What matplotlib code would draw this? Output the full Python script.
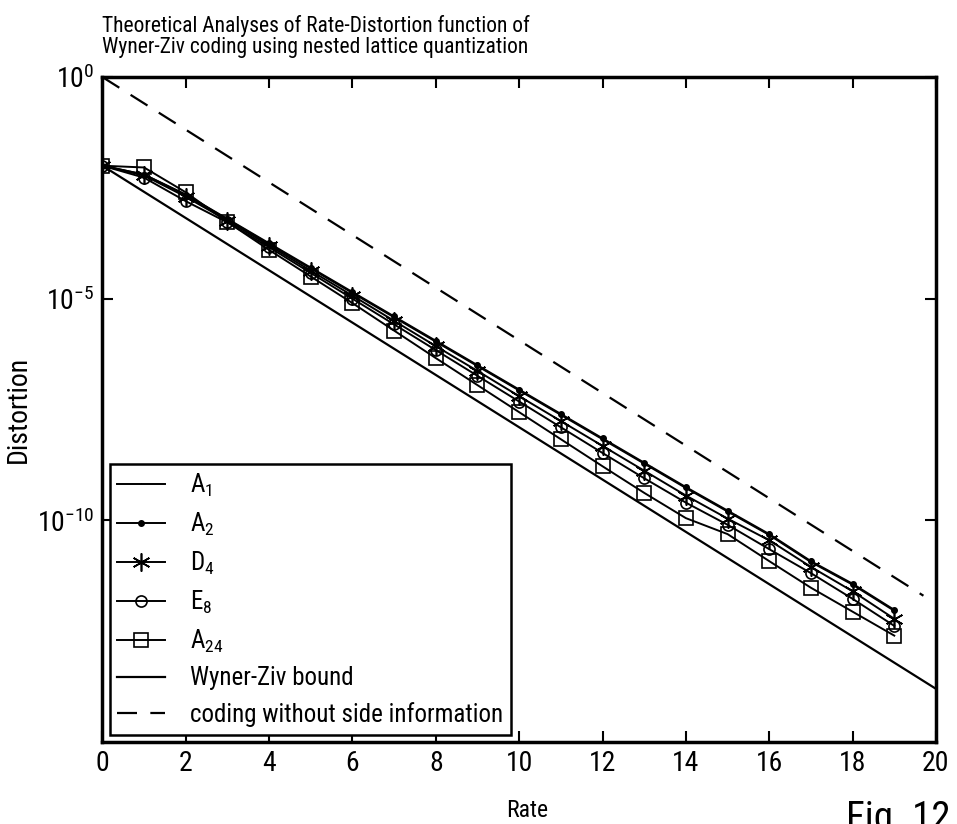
import matplotlib
matplotlib.use("Agg")
import matplotlib.pyplot as plt
from matplotlib import font_manager

# a narrow sans face close to the original figure's lettering
names = {f.name for f in font_manager.fontManager.ttflist}
cands = ['Roboto Condensed', 'PT Sans Narrow', 'Archivo Narrow', 'Liberation Sans Narrow']
found = [c for c in cands if c in names]
narrow = found[0] if found else 'Liberation Sans'

plt.rcParams['font.family'] = [narrow, 'Liberation Sans', 'DejaVu Sans']
plt.rcParams['mathtext.fontset'] = 'custom'
plt.rcParams['mathtext.rm'] = narrow
plt.rcParams['mathtext.default'] = 'regular'

rate = [0, 1, 2, 3, 4, 5, 6, 7, 8, 9, 10, 11, 12, 13, 14, 15, 16, 17, 18, 19]

# distortion exponents (D = 10**-e)
a2_exp = [2.0, 2.2, 2.65, 3.2, 3.75, 4.3, 4.85, 5.4, 5.95, 6.5,
          7.05, 7.6, 8.15, 8.7, 9.25, 9.78, 10.31, 10.92, 11.43, 12.02]
a1_exp = [2.0, 2.2, 2.66, 3.21, 3.77, 4.32, 4.87, 5.42, 5.97, 6.52,
          7.07, 7.62, 8.17, 8.72, 9.27, 9.8, 10.33, 10.94, 11.45, 12.04]
d4_exp = [2.0, 2.22, 2.7, 3.24, 3.8, 4.37, 4.93, 5.5, 6.07, 6.63,
          7.2, 7.76, 8.32, 8.88, 9.44, 9.96, 10.45, 11.05, 11.6, 12.22]
e8_exp = [2.0, 2.27, 2.8, 3.28, 3.84, 4.42, 5.0, 5.58, 6.16, 6.74,
          7.32, 7.9, 8.48, 9.05, 9.6, 10.1, 10.65, 11.19, 11.77, 12.38]
a24_exp = [2.0, 2.04, 2.6, 3.27, 3.9, 4.5, 5.1, 5.72, 6.34, 6.95,
           7.56, 8.17, 8.78, 9.38, 9.95, 10.31, 10.92, 11.52, 12.06, 12.6]

wz_rate = [0, 20]
wz_exp = [2.0, 13.8]
nosi_rate = [0, 19.7]
nosi_exp = [0.0, 11.7]

def d(exps):
    return [10.0 ** (-e) for e in exps]

fig = plt.figure(figsize=(9.57, 8.24), dpi=100)
ax = fig.add_axes([0.107, 0.0995, 0.871, 0.807])

ax.plot(rate, d(a1_exp), color='black', lw=1.4, marker=',', label='A$_{1}$')
ax.plot(rate, d(a2_exp), color='black', lw=1.4, marker='o', ms=4, label='A$_{2}$')
ax.plot(rate, d(d4_exp), color='black', lw=1.4, marker=(6, 2, 0), ms=13, mew=1.2,
        label='D$_{4}$')
ax.plot(rate, d(e8_exp), color='black', lw=1.4, marker='o', ms=8, mfc='none', mew=1.2,
        label='E$_{8}$')
ax.plot(rate, d(a24_exp), color='black', lw=1.4, marker='s', ms=10, mfc='none', mew=1.2,
        label='A$_{24}$')
ax.plot(wz_rate, d(wz_exp), color='black', lw=1.6, label='Wyner-Ziv bound')
ax.plot(nosi_rate, d(nosi_exp), color='black', lw=1.6, ls=(0, (9, 6)),
        label='coding without side information')

ax.set_yscale('log')
ax.set_xlim(0, 20)
ax.set_ylim(1e-15, 1)
ax.set_xticks(range(0, 21, 2))
ax.set_yticks([1e0, 1e-5, 1e-10])
ax.yaxis.set_minor_locator(matplotlib.ticker.NullLocator())
ax.set_yticklabels(['10$^{0}$', '10$^{-5}$', '10$^{-10}$'])
ax.tick_params(direction='in', length=8, width=1.5, top=True, right=True,
               labelsize=20, pad=6)
for s in ax.spines.values():
    s.set_linewidth(2.5)

ax.set_xlabel('Rate', fontsize=17)
ax.xaxis.set_label_coords(0.51, -0.085)
ax.set_ylabel('Distortion', fontsize=20)
ax.yaxis.set_label_coords(-0.085, 0.5)
ax.set_title('Theoretical Analyses of Rate-Distortion function of\n'
             'Wyner-Ziv coding using nested lattice quantization',
             loc='left', fontsize=15.5, pad=17, linespacing=1.0)

leg = ax.legend(loc='lower left', fontsize=18, frameon=True, fancybox=False,
                edgecolor='black', framealpha=1, borderaxespad=0.3,
                handlelength=1.9, handletextpad=1.0, labelspacing=0.47,
                borderpad=0.3)
leg.get_frame().set_linewidth(1.8)

fig.text(0.993, 1 - 800 / 824, 'Fig. 12', fontsize=28, ha='right', va='top')

fig.savefig('out.png', dpi=100)
